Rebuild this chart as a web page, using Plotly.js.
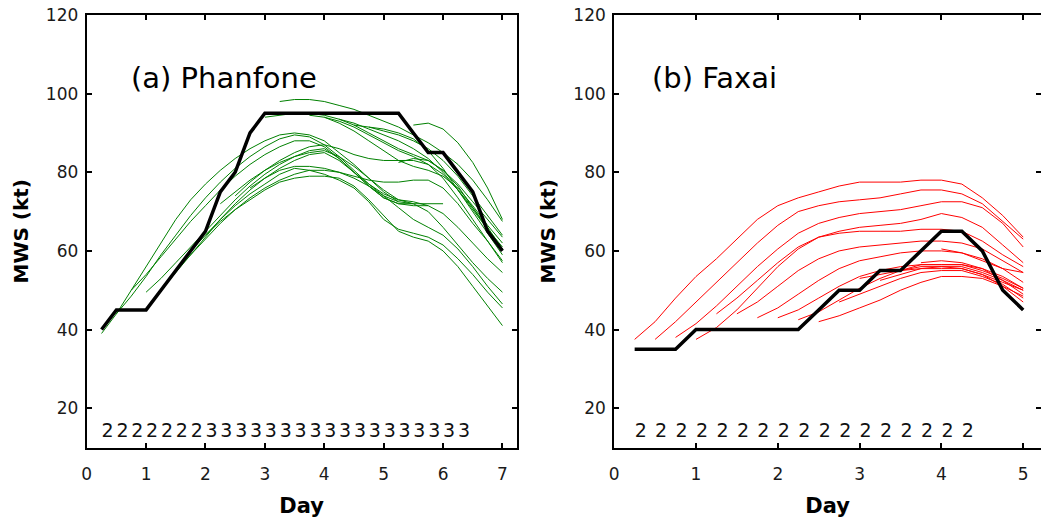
<!DOCTYPE html>
<html>
<head>
<meta charset="utf-8">
<script src="https://cdn.plot.ly/plotly-3.0.1.min.js"></script>
<style>html,body{margin:0;padding:0;background:#fff;}#chart{width:1041px;height:525px;}</style>
</head>
<body>
<div id="chart"></div>
<script>
// ---------- DATA ----------
const STEP = 0.25; // 6-hourly samples (days)

// (a) Phanfone: observed best-track intensity
const obsA_start = 0.25;
const obsA = [40,45,45,45,50,55,60,65,75,80,90,95,95,95,95,95,95,95,95,95,95,90,85,85,80,75,65,60];

// (a) Phanfone: forecast members (start day, values)
const fcA_start = [0.25,0.5,0.75,1.0,1.25,1.5,1.75,2.0,2.25,2.5,2.75,3.0,3.25,3.75,4.0,4.25,4.5,4.75,5.25,5.5];
const fcA_1  = [39,44,50,56,62,68,73,77,80.5,83.5,86,88,89.5,90,89.5,88,85,82,78.5,75,72.5];
const fcA_2  = [44,48.5,53.5,59,64,69,73.5,77.5,81,84,86.5,88.5,89.5,89,87,84,80.5,77,74,72.5,72];
const fcA_3  = [50,54,58.5,63,67.5,71.5,75.5,79,82,84.5,86.5,88,88,86.5,83.5,80,76.5,73.5,72,71.5,71.5];
const fcA_4  = [49.5,53,57,61,65,69,73,76.5,79.5,82,84,85.5,86,83.5,80,76.5,73.5,72,72,72,72];
const fcA_5  = [50,54.5,59,63.5,68,72,75.5,78.5,81,83,84.5,85,83,80,77,74.5,73,72.5,71.5,69.5,66,62,58,54.5];
const fcA_6  = [55,59,63,67,70.5,73.5,76,78,79.5,80.5,80.5,80,79,78,77.5,77.5,78,78,76,72,67,62.5,57.5];
const fcA_7  = [60,64,67.5,70.5,73,75.5,77.5,78.5,79,79,78.5,76.5,73,69,65,63.5,62.5,60,56,51,46,41];
const fcA_8  = [64,68,71.5,74.5,77,79.5,81,80.5,79.5,78,76,72.5,68,65.5,64.5,63.5,61.5,58,54,49.5,45.5];
const fcA_9  = [72,75,78,80.5,82.5,84,85,85.5,84,81.5,78.5,75.5,73,72,70,66,61.5,57,53,49.5];
const fcA_10 = [74,77.5,80.5,83,85,86.5,87,86,84.5,83.5,83,83,83,82,79.5,75.5,70.5,65.5,61];
const fcA_11 = [76,78.5,80.5,81.5,81.5,81,80,78.5,76.5,74,71,68,66,64,60.5,56,51,46.5];
const fcA_12 = [94,94.5,95,95,94.5,93.5,92,90,88,86,84.5,83,80.5,77,72.5,68,63.5];
const fcA_13 = [98,98.5,98.5,98,97,96,94.5,93,91.5,89.5,87.5,85,82,78,73,67.5];
const fcA_14 = [94.5,94,92.5,90.5,88,85.5,83,81.5,80.5,79,76,71.5,66.5,62];
const fcA_15 = [94,93,91.5,89.5,87.5,85.5,84,82,78.5,73.5,68,62.5,57];
const fcA_16 = [93.5,92.5,91,89.5,88,86,83.5,80,75.5,71,66,60.5];
const fcA_17 = [92,91.5,90.5,89.5,88,86,83,79,74,69,64];
const fcA_18 = [91.5,91,90,88.5,85.5,81,75.5,70,64.5,59];
const fcA_19 = [82.5,83.5,83,80.5,76.5,71,65.5,60.5];
const fcA_20 = [92,92.5,91,87.5,82.5,76,68];
const fcA = [fcA_1,fcA_2,fcA_3,fcA_4,fcA_5,fcA_6,fcA_7,fcA_8,fcA_9,fcA_10,fcA_11,fcA_12,fcA_13,fcA_14,fcA_15,fcA_16,fcA_17,fcA_18,fcA_19,fcA_20];

// (a) intensity category labels, from day 0.25 every 6 h
const catA_start = 0.25;
const catA = ['2','2','2','2','2','2','2','3','3','3','3','3','3','3','3','3','3','3','3','3','3','3','3','3','3'];

// (b) Faxai: observed
const obsB_start = 0.25;
const obsB = [35,35,35,40,40,40,40,40,40,45,50,50,55,55,60,65,65,60,50,45];

// (b) Faxai: forecast members
const fcB_start = [0.25,0.5,0.75,1.0,1.25,1.5,1.75,2.0,2.25,2.5,2.75,3.0,3.25,3.5,3.75,4.0];
const fcB_1  = [37.5,42,48,53.5,58,63,68,71.5,73.5,75,76.5,77.5,77.5,77.5,78,78,77,73.5,69,63.5];
const fcB_2  = [37.5,42,47,52,57,62,66.5,70,71.5,72.5,73,73.5,74.5,75.5,75.5,74.5,72,67.5,63];
const fcB_3  = [38,41.5,46,51,56,60.5,64.5,67,68.5,69.5,70,70.5,71.5,72.5,72.5,71,67,61];
const fcB_4  = [37.5,40.5,45,50.5,56,60.5,63.5,65,66,66.5,67,68,69.5,68.5,66,61.5,57];
const fcB_5  = [44,48,52.5,57,61,63.5,64.5,65,65,65,65.5,65.5,65,62.5,59,56];
const fcB_6  = [44,47,51,55,58,60,61,61.5,62,62.5,62.5,62,60.5,57.5,54.5];
const fcB_7  = [43,45.5,49,52.5,55.5,57.5,58.5,59.5,60,60,59.5,58,55.5,52];
const fcB_8  = [43,45,48,51,53.5,55,56,56.5,56.5,56.5,55,53,50.5];
const fcB_9  = [42.5,44.5,47.5,50.5,53,55,56,56,55.5,54,52,50];
const fcB_10 = [42,43.5,45.5,47.5,50,52,53.5,53.5,53,51,48.5];
const fcB_11 = [47,49,51,53,54.5,55,55,53.5,51.5,48];
const fcB_12 = [53,54,55,55.5,56,56,54.5,52.5,50];
const fcB_13 = [52.5,54,55.5,55.5,55.5,54,51,47];
const fcB_14 = [55,56.5,56.5,56.5,55.5,53.5,50.5];
const fcB_15 = [57,57.5,57,55.5,52.5,49];
const fcB_16 = [60.5,59.5,57.5,55.5,54.5];
const fcB = [fcB_1,fcB_2,fcB_3,fcB_4,fcB_5,fcB_6,fcB_7,fcB_8,fcB_9,fcB_10,fcB_11,fcB_12,fcB_13,fcB_14,fcB_15,fcB_16];

const catB_start = 0.25;
const catB = ['2','2','2','2','2','2','2','2','2','2','2','2','2','2','2','2','2'];

const titleA = '(a) Phanfone';
const titleB = '(b) Faxai';
const yTitle = 'MWS (kt)';
const xTitle = 'Day';

// ---------- BUILD ----------
function times(start, n){ const t=[]; for(let i=0;i<n;i++) t.push(start+STEP*i); return t; }

const FONT = 'DejaVu Sans, Verdana, sans-serif';
const traces = [];
fcA.forEach((v,k)=>traces.push({x:times(fcA_start[k],v.length), y:v, xaxis:'x', yaxis:'y', mode:'lines', line:{color:'rgb(0,128,0)', width:1}, hoverinfo:'skip', showlegend:false}));
traces.push({x:times(obsA_start,obsA.length), y:obsA, xaxis:'x', yaxis:'y', mode:'lines', line:{color:'#000', width:3.5}, showlegend:false});
fcB.forEach((v,k)=>traces.push({x:times(fcB_start[k],v.length), y:v, xaxis:'x2', yaxis:'y2', mode:'lines', line:{color:'rgb(255,0,0)', width:1}, hoverinfo:'skip', showlegend:false}));
traces.push({x:times(obsB_start,obsB.length), y:obsB, xaxis:'x2', yaxis:'y2', mode:'lines', line:{color:'#000', width:3.5}, showlegend:false});

const LABEL_Y = 14;
traces.push({x:times(catA_start,catA.length), y:catA.map(()=>LABEL_Y), text:catA, mode:'text', textposition:'middle right', textfont:{family:FONT, size:19, color:'#111'}, xaxis:'x', yaxis:'y', hoverinfo:'skip', showlegend:false});
traces.push({x:times(catB_start,catB.length), y:catB.map(()=>LABEL_Y), text:catB, mode:'text', textposition:'middle right', textfont:{family:FONT, size:19, color:'#111'}, xaxis:'x2', yaxis:'y2', hoverinfo:'skip', showlegend:false});

const ax = {showline:true, linewidth:2, linecolor:'#000', mirror:'ticks', ticks:'inside', ticklen:5, tickwidth:2, tickcolor:'#000', showgrid:false, zeroline:false, tickfont:{family:FONT, size:17, color:'#1a1a1a'}};
const W = 1041, H = 525;
const yDom = [1-447.5/H, 1-15/H];

const layout = {
  width:W, height:H, margin:{l:0,r:0,t:0,b:0}, paper_bgcolor:'#fff', plot_bgcolor:'#fff', showlegend:false,
  xaxis: Object.assign({}, ax, {domain:[86.7/W, 516.7/W], range:[0,7.24], tick0:0, dtick:1, anchor:'y', ticklabelstandoff:10,
    title:{text:xTitle, font:{family:FONT, size:21, color:'#000', weight:'bold'}, standoff:15}}),
  yaxis: Object.assign({}, ax, {domain:yDom, range:[10,120], tick0:0, dtick:20, anchor:'x', ticklabelstandoff:3,
    title:{text:yTitle, font:{family:FONT, size:20, color:'#000', weight:'bold'}, standoff:12}}),
  xaxis2: Object.assign({}, ax, {domain:[614.2/W, 1], range:[0,(W-614.2)/81.8], tick0:0, dtick:1, anchor:'y2', ticklabelstandoff:10,
    title:{text:xTitle, font:{family:FONT, size:21, color:'#000', weight:'bold'}, standoff:15}}),
  yaxis2: Object.assign({}, ax, {domain:yDom, range:[10,120], tick0:0, dtick:20, anchor:'x2', ticklabelstandoff:3,
    title:{text:yTitle, font:{family:FONT, size:20, color:'#000', weight:'bold'}, standoff:12}}),
  annotations:[
    {text:titleA, xref:'x', yref:'y', x:0.72, y:104, xanchor:'left', yanchor:'middle', showarrow:false, font:{family:FONT, size:29, color:'#000'}},
    {text:titleB, xref:'x2', yref:'y2', x:0.44, y:104, xanchor:'left', yanchor:'middle', showarrow:false, font:{family:FONT, size:29, color:'#000'}}
  ]
};

Plotly.newPlot('chart', traces, layout, {staticPlot:true, displayModeBar:false});
</script>
</body>
</html>
